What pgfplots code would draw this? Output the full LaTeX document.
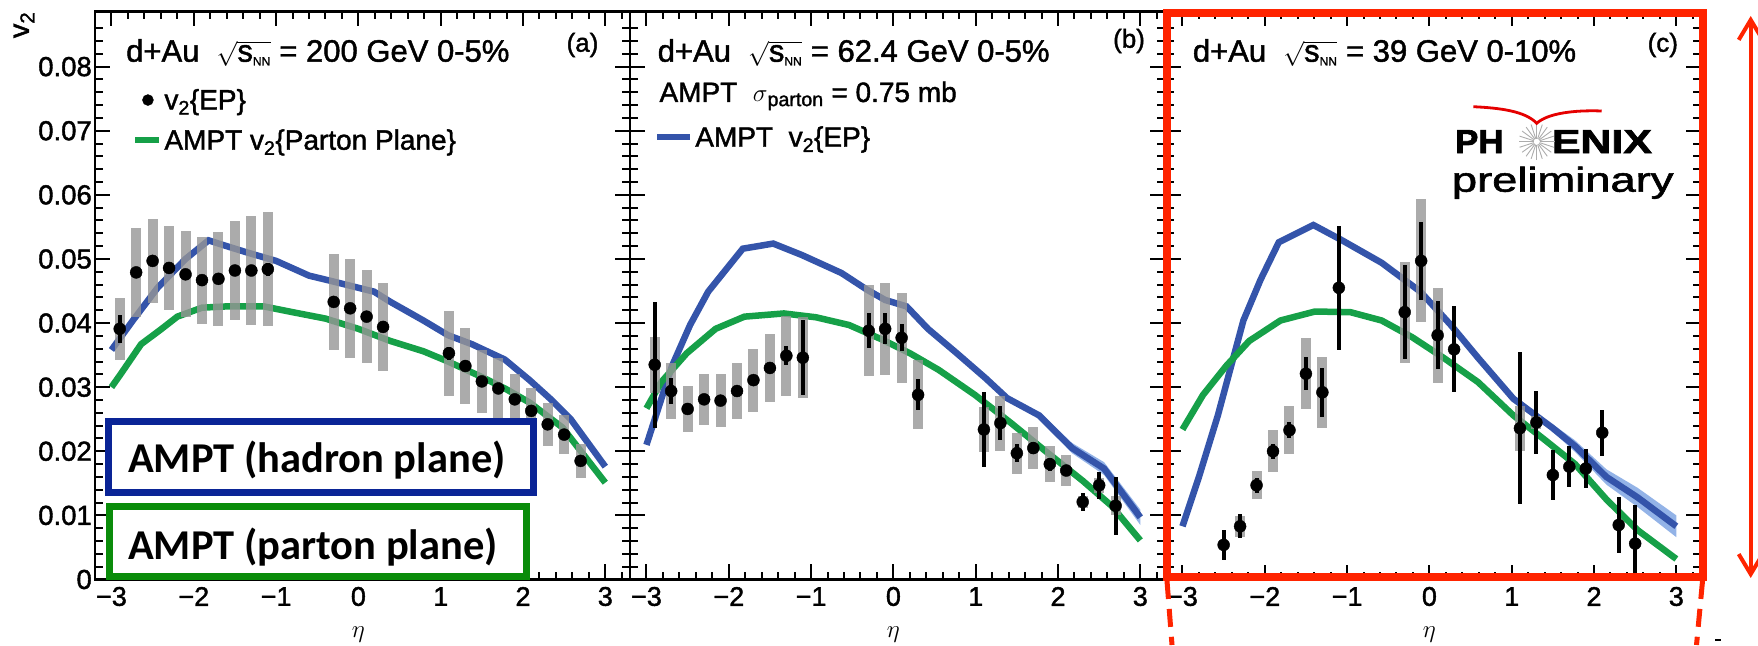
\documentclass[border=0pt]{standalone}
\usepackage{pgfplots}
\pgfplotsset{compat=1.18}
\usepackage{pgfplotstable}
\usepackage{graphicx}
\usepackage{fontspec}
\setmainfont{Liberation Sans}
\newfontfamily\rootfont[FakeBold=1.5]{Liberation Sans}
\newfontfamily\logofont[FakeBold=2]{Liberation Sans Bold}
\newfontfamily\carlito{Carlito}
\usetikzlibrary{arrows.meta}
\definecolor{ampblue}{RGB}{52,84,170}
\definecolor{ampgreen}{RGB}{22,160,72}
\definecolor{bandblue}{RGB}{120,160,225}
\definecolor{sysgray}{RGB}{150,150,150}
\definecolor{boxblue}{RGB}{10,36,150}
\definecolor{boxgreen}{RGB}{10,140,10}
\definecolor{redbox}{RGB}{255,36,0}

\pgfplotstableread{
x y stat sys
-2.9 0.0391 0.0022 0.0048
-2.7 0.0479 0.0008 0.0070
-2.5 0.0497 0.0008 0.0066
-2.3 0.0486 0.0008 0.0066
-2.1 0.0476 0.0008 0.0067
-1.9 0.0467 0.0008 0.0068
-1.7 0.0469 0.0008 0.0073
-1.5 0.0482 0.0008 0.0077
-1.3 0.0482 0.0008 0.0085
-1.1 0.0484 0.0010 0.0089
-0.3 0.0433 0.0008 0.0075
-0.1 0.0423 0.0008 0.0077
0.1 0.0410 0.0008 0.0072
0.3 0.0394 0.0008 0.0068
1.1 0.0353 0.0010 0.0066
1.3 0.0333 0.0008 0.0060
1.5 0.0309 0.0008 0.0049
1.7 0.0298 0.0008 0.0048
1.9 0.0281 0.0008 0.0040
2.1 0.0263 0.0008 0.0035
2.3 0.0242 0.0008 0.0033
2.5 0.0226 0.0008 0.0030
2.7 0.0185 0.0008 0.0027
}\dataA

\pgfplotstableread{
x y stat sys
-2.9 0.0335 0.0098 0.0044
-2.7 0.0294 0.0020 0.0043
-2.5 0.0266 0.0008 0.0036
-2.3 0.0281 0.0008 0.0040
-2.1 0.0279 0.0008 0.0041
-1.9 0.0294 0.0008 0.0044
-1.7 0.0311 0.0008 0.0049
-1.5 0.0330 0.0008 0.0053
-1.3 0.0349 0.0015 0.0062
-1.1 0.0346 0.0058 0.0063
-0.3 0.0388 0.0027 0.0071
-0.1 0.0391 0.0024 0.0072
0.1 0.0377 0.0021 0.0070
0.3 0.0288 0.0024 0.0054
1.1 0.0234 0.0058 0.0035
1.3 0.0244 0.0027 0.0043
1.5 0.0197 0.0014 0.0032
1.7 0.0205 0.0010 0.0033
1.9 0.0180 0.0010 0.0028
2.1 0.0170 0.0008 0.0024
2.3 0.0121 0.0014 0.0010
2.5 0.0147 0.0021 0.0012
2.7 0.0115 0.0045 0.0015
}\dataB

\pgfplotstableread{
x y stat sys
-2.5 0.0054 0.0023 0.0000
-2.3 0.0083 0.0019 0.0016
-2.1 0.0147 0.0012 0.0022
-1.9 0.0200 0.0012 0.0033
-1.7 0.0233 0.0012 0.0037
-1.5 0.0321 0.0026 0.0055
-1.3 0.0292 0.0038 0.0055
-1.1 0.0455 0.0097 0.0000
-0.3 0.0417 0.0073 0.0079
-0.1 0.0497 0.0061 0.0096
0.1 0.0381 0.0053 0.0074
0.3 0.0359 0.0067 0.0000
1.1 0.0236 0.0119 0.0035
1.3 0.0245 0.0049 0.0010
1.5 0.0163 0.0039 0.0000
1.7 0.0176 0.0032 0.0000
1.9 0.0173 0.0030 0.0000
2.1 0.0229 0.0036 0.0000
2.3 0.0085 0.0044 0.0000
2.5 0.0056 0.0060 0.0000
}\dataC

\pgfplotsset{
  panel/.style={
    scale only axis, width=535pt, height=568pt, anchor=south west,
    xmin=-3.2, xmax=3.3, ymin=0, ymax=0.0886,
    xtick={-3,-2,-1,0,1,2,3},
    xticklabels={−3,−2,−1,0,1,2,3},
    minor xtick={-3.2,-2.8,-2.6,-2.4,-2.2,-1.8,-1.6,-1.4,-1.2,-0.8,-0.6,-0.4,-0.2,0.2,0.4,0.6,0.8,1.2,1.4,1.6,1.8,2.2,2.4,2.6,2.8,3.2},
    ytick={0,0.01,0.02,0.03,0.04,0.05,0.06,0.07,0.08},
    minor ytick={0.002,0.004,0.006,0.008,0.012,0.014,0.016,0.018,0.022,0.024,0.026,0.028,0.032,0.034,0.036,0.038,0.042,0.044,0.046,0.048,0.052,0.054,0.056,0.058,0.062,0.064,0.066,0.068,0.072,0.074,0.076,0.078,0.082,0.084,0.086},
    yticklabels={},
    tick align=inside,
    major tick length=15pt, minor tick length=8pt,
    every tick/.style={black, line width=2pt},
    axis line style={line width=2.5pt},
    xticklabel style={font=\rootfont\fontsize{27}{27}\selectfont, anchor=center, yshift=-17pt},
    xlabel={$\eta$},
    every axis x label/.style={at={(axis description cs:0.4923,0)}, anchor=center, yshift=-55pt, font=\fontsize{30}{30}\selectfont},
    legend cell align=left,
    legend style={draw=none, fill=none, anchor=north west, font=\rootfont\fontsize{28}{30}\selectfont, row sep=14.5pt},
  },
  gcurve/.style={ampgreen, line width=6.5pt},
  bcurve/.style={ampblue, line width=6.5pt},
  sysbar/.style={only marks, mark=none, error bars/.cd, y dir=both, y explicit, error mark=none, error bar style={line width=10pt, sysgray, opacity=0.8}},
  statpt/.style={only marks, mark=*, mark size=6pt, black, mark options={fill=black}, error bars/.cd, y dir=both, y explicit, error mark=none, error bar style={line width=4pt, black}},
}

\begin{document}
\begin{tikzpicture}
\path (0,0) rectangle (1758pt,645pt);

% ---------- panel (a)
\begin{axis}[panel, at={(95pt,65.5pt)},
  yticklabels={0,0.01,0.02,0.03,0.04,0.05,0.06,0.07,0.08},
  yticklabel style={font=\rootfont\fontsize{27.5}{27.5}\selectfont, anchor=east, inner sep=0pt, xshift=-3pt},
  legend style={at={(axis description cs:0.0640,0.8707)}}]
\addlegendimage{legend image code/.code={\fill[black] (12.5pt,0pt) circle (5.5pt);}}
\addlegendentry{v\textsubscript{2}\{EP\}}
\addlegendimage{legend image code/.code={\draw[ampgreen, line width=6pt] (0pt,0pt) -- (24pt,0pt);}}
\addlegendentry{AMPT v\textsubscript{2}\{Parton Plane\}}
\addplot[bcurve] coordinates {(-3.0,0.0358) (-2.74,0.0404) (-2.44,0.0455) (-2.1,0.0500) (-1.82,0.0529) (-1.6,0.0520) (-1.35,0.0510) (-1.0,0.0497) (-0.6,0.0474) (-0.31,0.0465) (0.0,0.0455) (0.19,0.0449) (0.39,0.0433) (0.79,0.0404) (1.09,0.0381) (1.38,0.0367) (1.78,0.0343) (2.08,0.0311) (2.33,0.0282) (2.58,0.0250) (3.0,0.0176)};
\addplot[gcurve] coordinates {(-3.0,0.0300) (-2.89,0.0320) (-2.64,0.0367) (-2.39,0.0391) (-2.2,0.0410) (-1.9,0.0424) (-1.6,0.0426) (-1.15,0.0426) (-0.8,0.0417) (-0.4,0.0407) (0.0,0.0391) (0.39,0.0372) (0.79,0.0356) (1.09,0.0340) (1.48,0.0317) (1.78,0.0298) (2.08,0.0276) (2.48,0.0237) (3.0,0.0151)};
\addplot[sysbar] table[x=x, y=y, y error=sys] {\dataA};
\addplot[statpt] table[x=x, y=y, y error=stat] {\dataA};
\end{axis}

% ---------- panel (b)
\begin{axis}[panel, at={(630pt,65.5pt)},
  legend style={at={(axis description cs:0.0395,0.805)}}]
\addlegendimage{legend image code/.code={\draw[ampblue, line width=6pt] (0pt,0pt) -- (33pt,0pt);}}
\addlegendentry{AMPT\ \ v\textsubscript{2}\{EP\}}
\addplot[fill=bandblue, draw=none, opacity=0.8] coordinates {(1.77,0.0262) (2.17,0.0213) (2.56,0.0183) (3.0,0.0109) (3.0,0.0085) (2.56,0.0163) (2.17,0.0197) (1.77,0.0250)} -- cycle;
\addplot[bcurve] coordinates {(-3.0,0.0210) (-2.69,0.0333) (-2.47,0.0397) (-2.25,0.0449) (-1.83,0.0516) (-1.46,0.0524) (-1.11,0.0506) (-0.63,0.0478) (-0.32,0.0452) (-0.1,0.0436) (0.16,0.0426) (0.42,0.0391) (0.77,0.0353) (1.12,0.0314) (1.38,0.0283) (1.77,0.0256) (2.17,0.0205) (2.56,0.0173) (3.0,0.0097)};
\addplot[gcurve] coordinates {(-3.0,0.0267) (-2.82,0.0308) (-2.51,0.0353) (-2.16,0.0391) (-1.81,0.0410) (-1.33,0.0415) (-0.94,0.0409) (-0.54,0.0397) (-0.15,0.0375) (0.2,0.0353) (0.55,0.0327) (0.99,0.0288) (1.43,0.0244) (1.86,0.0199) (2.3,0.0154) (2.65,0.0115) (3.0,0.0061)};
\addplot[sysbar] table[x=x, y=y, y error=sys] {\dataB};
\addplot[statpt] table[x=x, y=y, y error=stat] {\dataB};
\end{axis}

% ---------- panel (c)
\begin{axis}[panel, at={(1166pt,65.5pt)}]
\addplot[fill=bandblue, draw=none, opacity=0.8] coordinates {(1.49,0.0243) (1.77,0.0217) (2.15,0.0172) (2.53,0.0143) (3.0,0.0100) (3.0,0.0066) (2.53,0.0113) (2.15,0.0148) (1.77,0.0199) (1.49,0.0231)} -- cycle;
\addplot[bcurve] coordinates {(-3.0,0.0083) (-2.8,0.0160) (-2.57,0.0256) (-2.26,0.0404) (-2.05,0.0468) (-1.83,0.0526) (-1.41,0.0553) (-1.06,0.0529) (-0.58,0.0494) (-0.11,0.0449) (0.26,0.0397) (0.59,0.0346) (1.02,0.0282) (1.49,0.0237) (1.77,0.0208) (2.15,0.0160) (2.53,0.0128) (3.0,0.0083)};
\addplot[gcurve] coordinates {(-3.0,0.0234) (-2.75,0.0288) (-2.47,0.0333) (-2.19,0.0372) (-1.81,0.0404) (-1.39,0.0418) (-0.96,0.0417) (-0.58,0.0404) (-0.21,0.0378) (0.17,0.0346) (0.59,0.0308) (1.02,0.0256) (1.4,0.0218) (1.77,0.0180) (2.15,0.0125) (2.53,0.0077) (3.0,0.0032)};
\addplot[sysbar] table[x=x, y=y, y error=sys] {\dataC};
\addplot[statpt] table[x=x, y=y, y error=stat] {\dataC};
\end{axis}

% ---------- texts
\node[rotate=90, font=\rootfont\fontsize{29}{29}\selectfont, inner sep=0] at (24pt,620pt) {v\textsubscript{2}};
\begin{scope}[every node/.style={inner sep=0pt}]
\node[anchor=base west, font=\rootfont\fontsize{31}{34}\selectfont] at (126pt,583.3pt) {d+Au\ \ $\sqrt{\vphantom{Ad}\mbox{s}_{\mbox{\fontsize{12}{12}\selectfont NN}}}$ = 200 GeV 0-5\%};
\node[anchor=base west, font=\rootfont\fontsize{31}{34}\selectfont] at (657.5pt,583.3pt) {d+Au\ \ $\sqrt{\vphantom{Ad}\mbox{s}_{\mbox{\fontsize{12}{12}\selectfont NN}}}$ = 62.4 GeV 0-5\%};
\node[anchor=base west, font=\rootfont\fontsize{31}{34}\selectfont] at (1192.7pt,583.3pt) {d+Au\ \ $\sqrt{\vphantom{Ad}\mbox{s}_{\mbox{\fontsize{12}{12}\selectfont NN}}}$ = 39 GeV 0-10\%};
\node[font=\rootfont\fontsize{26}{26}\selectfont] at (582.5pt,600pt) {(a)};
\node[font=\rootfont\fontsize{26}{26}\selectfont] at (1129pt,604pt) {(b)};
\node[font=\rootfont\fontsize{26}{26}\selectfont] at (1662.8pt,600pt) {(c)};
\node[anchor=base west, font=\rootfont\fontsize{28}{30}\selectfont] at (659.3pt,543pt) {AMPT\ \ $\sigma$\textsubscript{parton} = 0.75 mb};
% PHENIX logo
\node[anchor=south west] at (1455pt,491.7pt) {\resizebox{48.3pt}{23pt}{\logofont PH}};
\node[anchor=south west] at (1551.7pt,491.7pt) {\resizebox{100pt}{23pt}{\logofont ENIX}};
\node[anchor=base west] at (1451.7pt,453.3pt) {\resizebox{221.6pt}{25pt}{\rootfont\fontsize{40}{40}\selectfont preliminary}};
\end{scope}
\foreach \a in {0,18,...,342} \draw[gray!65, line width=0.9pt] (1536.7pt,503.3pt) ++(\a:3pt) -- ++(\a:15pt);
\draw[red!90!black, line width=2.8pt] (1473.3pt,538.3pt) .. controls (1500pt,537pt) and (1525pt,534pt) .. (1536.7pt,521.7pt) .. controls (1548pt,532pt) and (1575pt,535pt) .. (1601.7pt,534pt);

% annotation boxes
\draw[boxblue, line width=7pt, fill=white] (108.8pt,223pt) rectangle (533.9pt,152.8pt);
\node[anchor=base west, inner sep=0, font=\carlito\bfseries\fontsize{42.5}{42.5}\selectfont] at (128pt,172pt) {AMPT (hadron plane)};
\draw[boxgreen, line width=7pt, fill=white] (109pt,138.6pt) rectangle (526pt,68.5pt);
\node[anchor=base west, inner sep=0, font=\carlito\bfseries\fontsize{42.5}{42.5}\selectfont] at (128pt,85.5pt) {AMPT (parton plane)};

% red highlight
\draw[redbox, line width=8pt] (1167pt,632pt) rectangle (1702.5pt,68.3pt);
\draw[redbox, line width=5pt, dash pattern=on 18pt off 10pt] (1167pt,64pt) -- (1172pt,0pt);
\draw[redbox, line width=5pt, dash pattern=on 18pt off 10pt] (1702.5pt,64pt) -- (1696.5pt,0pt);
\draw[redbox, line width=4pt, {Straight Barb[length=20pt,width=24pt]}-{Straight Barb[length=20pt,width=24pt]}] (1750.7pt,629pt) -- (1750.7pt,67pt);
\draw[black, line width=1.5pt] (1715pt,5pt) -- (1721pt,5pt);

\pgfresetboundingbox
\path[use as bounding box] (0,0) rectangle (1758pt,645pt);
\end{tikzpicture}
\end{document}
